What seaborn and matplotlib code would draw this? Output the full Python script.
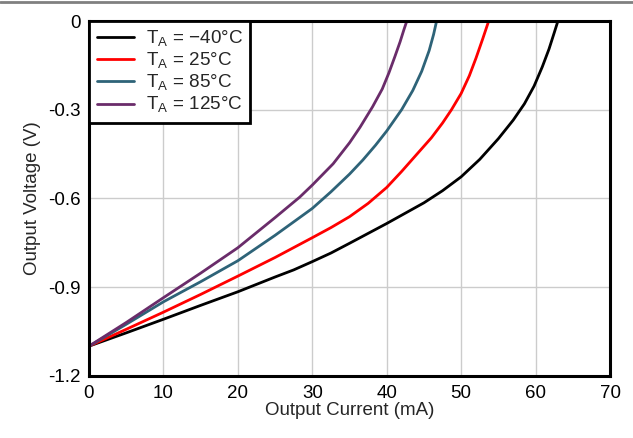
import pandas as pd
import seaborn as sns
import matplotlib.pyplot as plt
from matplotlib.lines import Line2D
from matplotlib.ticker import FuncFormatter

# values (mA, V)
x_m40 = [0, 5, 10, 15, 20, 25, 27.5, 30, 32.5, 35, 40, 45, 47.5, 50, 52.5, 55, 57, 58.5, 59.8,
         60.9, 61.8, 62.5, 63.0]
v_m40 = [-1.1, -1.055, -1.009, -0.962, -0.916, -0.866, -0.842, -0.814, -0.785, -0.752, -0.685,
         -0.615, -0.574, -0.527, -0.468, -0.398, -0.335, -0.28, -0.22, -0.155, -0.095, -0.04, 0]
x_25 = [0, 5, 10, 15, 20, 25, 30, 32.5, 35, 37.5, 40, 42, 44, 46, 47.5, 48.7, 50, 51.1, 52,
        52.9, 53.7]
v_25 = [-1.1, -1.043, -0.985, -0.925, -0.863, -0.8, -0.733, -0.699, -0.662, -0.617, -0.563,
        -0.509, -0.452, -0.395, -0.345, -0.3, -0.245, -0.185, -0.125, -0.06, 0]
x_85 = [0, 5, 10, 15, 20, 25, 28.3, 30, 32.5, 35, 36.8, 38.5, 40, 42, 43.5, 44.7, 45.7, 46.3, 46.7]
v_85 = [-1.1, -1.026, -0.95, -0.882, -0.811, -0.725, -0.665, -0.634, -0.578, -0.518, -0.47,
        -0.42, -0.372, -0.3, -0.235, -0.17, -0.1, -0.045, 0]
x_125 = [0, 5, 10, 15, 20, 25, 28.3, 30, 32.8, 35, 36.4, 38.1, 39.4, 40.3, 41.1, 41.8, 42.3, 42.7]
v_125 = [-1.1, -1.02, -0.936, -0.853, -0.767, -0.665, -0.596, -0.555, -0.483, -0.412, -0.36,
         -0.29, -0.23, -0.175, -0.12, -0.07, -0.03, 0]

labels = ["T$_\\mathregular{A}$ = \u221240\u00b0C", "T$_\\mathregular{A}$ = 25\u00b0C",
          "T$_\\mathregular{A}$ = 85\u00b0C", "T$_\\mathregular{A}$ = 125\u00b0C"]
colors = ["#000000", "#FF0000", "#2E6378", "#6A2C6A"]

frames = []
for lab, xs, vs in zip(labels, [x_m40, x_25, x_85, x_125], [v_m40, v_25, v_85, v_125]):
    frames.append(pd.DataFrame({"I": xs, "V": vs, "T": lab}))
df = pd.concat(frames, ignore_index=True)

sns.set_style("white")
plt.rcParams['font.family'] = ['Liberation Sans', 'DejaVu Sans']
plt.rcParams['mathtext.fontset'] = 'custom'
plt.rcParams['mathtext.rm'] = 'Liberation Sans'

fig = plt.figure(figsize=(6.33, 4.38), dpi=100)
ax = fig.add_axes([0.1406, 0.1422, 0.8231, 0.8098])

sns.lineplot(data=df, x="I", y="V", hue="T", palette=colors, sort=False,
             estimator=None, linewidth=2, ax=ax)

ax.set_xlim(0, 70)
ax.set_ylim(-1.2, 0)
ax.set_xticks(range(0, 71, 10))
ax.set_yticks([-1.2, -0.9, -0.6, -0.3, 0])
ax.yaxis.set_major_formatter(FuncFormatter(lambda v, p: "0" if v == 0 else f"{v:.1f}"))
ax.grid(True, color="#cccccc", linewidth=1)
ax.tick_params(length=0, labelsize=13.5, colors="black")
ax.tick_params(axis="x", pad=7)
ax.tick_params(axis="y", pad=6)
for s in ax.spines.values():
    s.set_color("black")
    s.set_linewidth(2.2)

ax.set_xlabel("Output Current (mA)", fontsize=13.5, labelpad=0)
ax.set_ylabel("Output Voltage (V)", fontsize=13.5, labelpad=5)

leg = ax.legend(loc="upper left", fontsize=13.6, frameon=True, fancybox=False,
                borderaxespad=0, handlelength=2.0, labelspacing=0.1,
                handletextpad=0.6, borderpad=0.4)
leg.get_frame().set_edgecolor("black")
leg.get_frame().set_linewidth(2)
leg.get_frame().set_alpha(1)

fig.add_artist(Line2D([0, 1], [0.995, 0.995], color="#808080", linewidth=2,
                      transform=fig.transFigure))

fig.savefig("out.png", dpi=100)
